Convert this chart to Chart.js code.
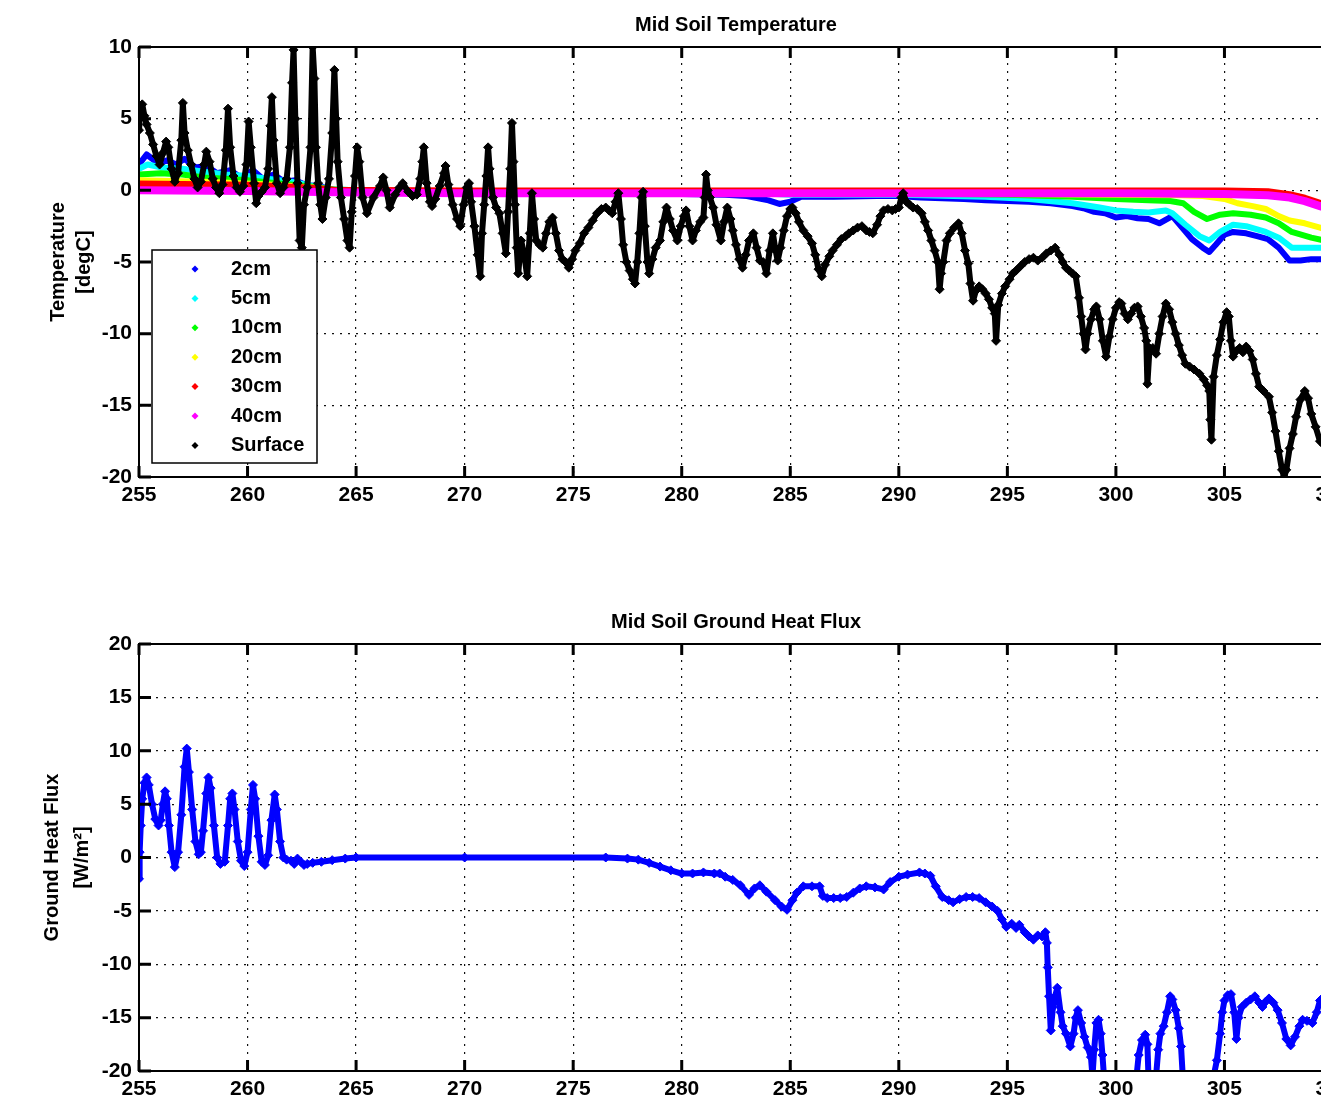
<!DOCTYPE html>
<html>
<head>
<meta charset="utf-8">
<title>Mid Soil</title>
<script src="https://cdn.jsdelivr.net/npm/chart.js@4"></script>
<style>
html, body { margin: 0; padding: 0; overflow: hidden; background: #fff; }
#graficaTemp { position: absolute; left: 0; top: 0; }
#graficaFlujo { position: absolute; left: 0; top: 597px; }
</style>
</head>
<body>
<canvas id="graficaTemp" width="1360" height="527"></canvas>
<canvas id="graficaFlujo" width="1360" height="524"></canvas>
<script>
// marcas de los ejes
var marcasX = [255, 260, 265, 270, 275, 280, 285, 290, 295, 300, 305, 310];
var marcasTemp = [-20, -15, -10, -5, 0, 5, 10];
var marcasFlujo = [-20, -15, -10, -5, 0, 5, 10, 15, 20];

// temperaturas del suelo [dia, degC]
var temp2cm = [[255.0,1.8],[255.35,2.5],[255.7,2.1],[256.0,1.9],[256.3,2.1],[256.7,1.8],[257.1,2.2],[257.6,1.6],[258.1,1.7],[258.6,1.2],[259.2,1.4],[259.7,0.9],[260.25,1.4],[260.7,0.8],[261.2,1.1],[261.7,0.6],[262.2,0.7],[262.7,0.35],[263.3,0.3],[263.9,0.05],[265,-0.1],[270,-0.1],[275,-0.1],[278,-0.2],[280,-0.25],[282,-0.3],[283,-0.4],[284,-0.7],[284.5,-0.95],[285,-0.8],[285.5,-0.45],[287,-0.45],[289,-0.4],[290,-0.4],[291,-0.5],[292,-0.55],[293,-0.6],[294,-0.7],[295,-0.75],[296,-0.8],[297,-0.9],[298,-1.1],[298.5,-1.25],[299,-1.5],[299.5,-1.6],[300,-1.9],[300.5,-1.8],[301,-1.95],[301.5,-2.0],[302,-2.3],[302.6,-1.8],[303.0,-2.5],[303.5,-3.4],[304,-4.0],[304.3,-4.3],[304.6,-3.8],[305,-3.1],[305.4,-2.9],[306,-3.0],[306.5,-3.2],[307,-3.4],[307.5,-4.0],[308.0,-4.9],[308.5,-4.9],[309,-4.8],[309.6,-4.8]];
var temp5cm = [[255.0,1.5],[255.4,1.8],[256,1.6],[257,1.5],[258,1.3],[259,1.1],[260,1.0],[261,0.8],[262,0.6],[263,0.3],[264,0.05],[266,-0.05],[275,-0.05],[283,-0.15],[285,-0.3],[290,-0.3],[294,-0.45],[296,-0.6],[298,-0.9],[299.25,-1.2],[300,-1.4],[300.8,-1.5],[301.5,-1.55],[302.3,-1.4],[302.6,-1.6],[303.2,-2.4],[303.85,-3.2],[304.3,-3.5],[304.8,-2.9],[305.4,-2.4],[306,-2.5],[306.9,-2.9],[307.5,-3.3],[308.1,-4.0],[309,-4.0],[309.6,-4.0]];
var temp10cm = [[255.0,1.1],[256,1.2],[257,1.1],[258,0.9],[259,0.8],[260,0.7],[261,0.55],[262,0.4],[263,0.25],[264,0.05],[266,-0.05],[280,-0.1],[290,-0.2],[295,-0.3],[298,-0.45],[300,-0.6],[301.5,-0.7],[302.5,-0.75],[303.1,-0.9],[303.6,-1.5],[304.2,-2.0],[304.8,-1.7],[305.4,-1.6],[306.2,-1.7],[306.9,-1.9],[307.5,-2.3],[308.1,-2.9],[309,-3.3],[309.6,-3.5]];
var temp20cm = [[255,0.7],[258,0.6],[261,0.4],[263,0.2],[264,0.0],[270,-0.1],[280,-0.15],[290,-0.2],[300,-0.3],[303,-0.35],[304,-0.4],[305,-0.6],[305.6,-0.9],[306.3,-1.1],[306.9,-1.3],[307.5,-1.8],[308,-2.1],[308.7,-2.3],[309.4,-2.6],[309.6,-2.7]];
var temp30cm = [[255,0.45],[260,0.35],[263,0.15],[264,0.0],[270,-0.05],[280,-0.05],[290,-0.05],[300,-0.05],[305,-0.05],[307,-0.1],[308,-0.3],[308.7,-0.55],[309.4,-0.9],[309.6,-1.0]];
var temp40cm = [[255,0.0],[260,-0.05],[265,-0.15],[270,-0.2],[280,-0.2],[290,-0.2],[300,-0.2],[305,-0.25],[307,-0.35],[308,-0.5],[308.7,-0.75],[309.4,-1.1],[309.6,-1.2]];
var tempSuperficie = [[255.0,4.2],[255.05,5.5],[255.15,6.0],[255.25,5.2],[255.35,4.6],[255.5,4.0],[255.65,3.2],[255.8,2.4],[255.95,1.8],[256.1,2.6],[256.25,3.4],[256.35,3.0],[256.5,1.5],[256.65,0.6],[256.8,1.2],[256.95,3.5],[257.02,6.1],[257.1,4.0],[257.25,2.8],[257.4,1.8],[257.55,0.8],[257.7,0.2],[257.85,0.6],[258.0,1.8],[258.1,2.7],[258.25,2.0],[258.4,0.8],[258.55,0.2],[258.7,-0.2],[258.85,0.4],[259.0,2.8],[259.1,5.7],[259.2,3.0],[259.35,1.0],[259.5,0.2],[259.65,-0.1],[259.8,0.3],[259.95,1.8],[260.05,4.8],[260.15,3.0],[260.3,0.5],[260.4,-0.9],[260.5,-0.4],[260.65,-0.1],[260.8,0.2],[260.95,1.5],[261.05,4.5],[261.12,6.5],[261.2,3.5],[261.35,0.5],[261.5,-0.2],[261.65,0.2],[261.8,0.8],[261.95,3.0],[262.05,7.5],[262.12,9.8],[262.2,5.0],[262.3,0.5],[262.4,-3.5],[262.5,-4.0],[262.6,-1.0],[262.75,0.2],[262.9,3.0],[263.0,10.0],[263.08,7.8],[263.15,3.0],[263.25,0.5],[263.35,-1.0],[263.45,-2.0],[263.6,-0.5],[263.75,0.8],[263.9,4.0],[264.0,8.4],[264.08,5.0],[264.15,2.0],[264.3,-0.5],[264.45,-2.0],[264.6,-3.5],[264.7,-4.0],[264.8,-1.5],[264.95,1.0],[265.05,3.0],[265.15,2.0],[265.3,-0.5],[265.5,-1.6],[265.8,-0.5],[266.1,0.3],[266.25,0.9],[266.4,0.0],[266.55,-1.2],[266.8,-0.3],[267.0,0.2],[267.15,0.5],[267.4,-0.1],[267.6,-0.4],[267.8,-0.3],[267.95,0.8],[268.05,2.0],[268.12,3.0],[268.25,0.5],[268.4,-0.8],[268.5,-1.1],[268.65,-0.6],[268.85,0.3],[269.05,1.2],[269.12,1.7],[269.25,0.4],[269.45,-1.0],[269.65,-2.0],[269.8,-2.5],[269.95,-1.0],[270.1,0.2],[270.2,0.5],[270.3,-0.8],[270.45,-2.5],[270.6,-4.5],[270.72,-6.0],[270.8,-3.0],[270.9,-1.0],[271.0,1.0],[271.08,3.0],[271.15,1.5],[271.3,-0.5],[271.45,-1.2],[271.6,-1.6],[271.75,-3.0],[271.9,-4.4],[272.0,-1.5],[272.1,1.5],[272.18,4.7],[272.25,2.0],[272.32,-1.0],[272.4,-4.0],[272.47,-5.8],[272.6,-3.5],[272.75,-4.5],[272.88,-6.0],[273.0,-3.0],[273.1,-0.2],[273.2,-2.0],[273.3,-3.5],[273.45,-3.8],[273.6,-4.0],[273.75,-3.0],[273.9,-2.2],[274.05,-1.9],[274.2,-3.0],[274.35,-4.2],[274.5,-4.8],[274.65,-5.0],[274.8,-5.4],[274.95,-4.8],[275.1,-4.2],[275.3,-3.7],[275.5,-3.0],[275.7,-2.6],[275.9,-2.1],[276.1,-1.6],[276.3,-1.3],[276.5,-1.2],[276.65,-1.4],[276.8,-1.6],[276.95,-0.8],[277.08,-0.2],[277.2,-2.0],[277.3,-3.8],[277.45,-5.0],[277.6,-5.6],[277.75,-6.2],[277.85,-6.5],[277.95,-5.0],[278.05,-3.0],[278.15,-0.5],[278.22,-0.1],[278.3,-2.5],[278.42,-5.0],[278.5,-5.8],[278.65,-4.8],[278.8,-4.0],[279.0,-3.5],[279.15,-2.2],[279.3,-1.2],[279.45,-2.0],[279.6,-2.8],[279.8,-3.5],[279.95,-2.5],[280.1,-1.8],[280.2,-1.4],[280.35,-2.5],[280.5,-3.5],[280.65,-2.8],[280.85,-2.2],[281.0,-1.9],[281.06,-0.5],[281.12,1.1],[281.2,0.0],[281.3,-0.5],[281.45,-1.2],[281.6,-2.4],[281.8,-3.5],[281.95,-2.2],[282.1,-1.2],[282.25,-2.0],[282.35,-2.8],[282.5,-3.8],[282.65,-4.8],[282.8,-5.4],[282.95,-4.5],[283.1,-3.5],[283.3,-3.0],[283.45,-4.0],[283.6,-4.9],[283.75,-5.0],[283.9,-5.8],[284.05,-4.2],[284.2,-3.0],[284.3,-4.0],[284.42,-4.9],[284.55,-4.0],[284.7,-2.8],[284.85,-1.8],[285.0,-1.3],[285.1,-1.2],[285.25,-1.6],[285.4,-2.2],[285.6,-2.8],[285.8,-3.2],[286.0,-3.7],[286.15,-4.5],[286.3,-5.5],[286.45,-6.0],[286.6,-5.2],[286.8,-4.6],[286.95,-4.2],[287.15,-3.8],[287.35,-3.4],[287.55,-3.2],[287.7,-3.0],[287.9,-2.8],[288.1,-2.6],[288.3,-2.5],[288.5,-2.8],[288.65,-2.9],[288.8,-3.0],[289.0,-2.4],[289.15,-1.8],[289.3,-1.4],[289.5,-1.3],[289.7,-1.4],[289.85,-1.3],[290.0,-1.2],[290.12,-0.5],[290.2,-0.2],[290.35,-0.8],[290.5,-1.0],[290.65,-1.2],[290.85,-1.3],[291.05,-1.6],[291.2,-2.2],[291.35,-2.8],[291.5,-3.5],[291.65,-4.2],[291.8,-5.0],[291.88,-6.9],[291.95,-5.8],[292.05,-5.0],[292.2,-3.5],[292.35,-3.0],[292.55,-2.6],[292.75,-2.3],[292.9,-3.0],[293.05,-4.2],[293.2,-5.1],[293.3,-6.5],[293.42,-7.7],[293.55,-7.0],[293.7,-6.7],[293.85,-6.9],[294.0,-7.2],[294.15,-7.6],[294.3,-8.2],[294.42,-8.6],[294.48,-10.5],[294.58,-8.0],[294.75,-7.2],[294.9,-6.7],[295.1,-6.2],[295.25,-5.8],[295.4,-5.6],[295.6,-5.3],[295.8,-5.0],[296.0,-4.8],[296.2,-4.7],[296.4,-4.9],[296.6,-4.7],[296.8,-4.4],[297.0,-4.2],[297.2,-4.0],[297.4,-4.5],[297.55,-5.0],[297.7,-5.4],[297.85,-5.6],[298.0,-5.8],[298.15,-6.0],[298.3,-7.5],[298.4,-8.8],[298.5,-10.0],[298.6,-11.1],[298.7,-10.0],[298.85,-9.0],[299.0,-8.3],[299.1,-8.1],[299.25,-9.0],[299.4,-10.5],[299.55,-11.6],[299.7,-10.2],[299.85,-9.0],[300.0,-8.2],[300.15,-7.8],[300.25,-7.9],[300.4,-8.6],[300.55,-9.0],[300.7,-8.6],[300.85,-8.2],[301.0,-8.1],[301.15,-8.8],[301.3,-9.6],[301.4,-10.5],[301.45,-13.5],[301.55,-11.0],[301.7,-11.0],[301.85,-11.4],[302.0,-10.0],[302.15,-8.8],[302.3,-7.9],[302.45,-8.3],[302.6,-9.2],[302.75,-10.0],[302.9,-10.8],[303.05,-11.5],[303.2,-12.1],[303.4,-12.3],[303.6,-12.5],[303.85,-12.8],[304.05,-13.2],[304.2,-13.6],[304.3,-14.0],[304.35,-16.0],[304.4,-17.4],[304.5,-13.0],[304.65,-11.5],[304.8,-10.4],[304.95,-9.2],[305.1,-8.5],[305.2,-8.8],[305.3,-10.5],[305.4,-11.6],[305.55,-11.2],[305.7,-11.0],[305.85,-11.3],[306.0,-10.9],[306.15,-11.2],[306.3,-11.8],[306.45,-12.8],[306.6,-13.7],[306.8,-14.0],[307.05,-14.4],[307.2,-15.5],[307.35,-16.8],[307.5,-18.2],[307.65,-19.5],[307.75,-20.0],[307.85,-19.5],[308.0,-18.0],[308.15,-17.0],[308.3,-15.8],[308.5,-14.6],[308.7,-14.0],[308.85,-14.5],[309.0,-15.6],[309.2,-16.5],[309.4,-17.5],[309.6,-17.8]];

// flujo de calor del suelo [dia, W/m2]; null = fuera de escala
var flujoSuelo = [[255.0,-2.0],[255.03,0.5],[255.08,3.0],[255.15,5.5],[255.25,7.0],[255.35,7.5],[255.45,6.8],[255.6,5.0],[255.75,3.6],[255.9,3.0],[256.0,3.5],[256.1,5.0],[256.2,6.2],[256.28,5.5],[256.38,3.0],[256.5,0.5],[256.65,-0.9],[256.8,0.5],[256.95,4.0],[257.1,8.5],[257.2,10.2],[257.3,8.0],[257.45,4.5],[257.6,1.5],[257.75,0.3],[257.85,0.5],[257.95,2.5],[258.1,6.0],[258.2,7.5],[258.3,6.5],[258.45,3.0],[258.6,0.0],[258.75,-0.6],[258.95,-0.4],[259.1,3.0],[259.2,5.5],[259.3,6.0],[259.4,4.5],[259.55,1.5],[259.7,-0.3],[259.85,-0.8],[260.0,0.5],[260.15,4.5],[260.25,6.8],[260.35,5.5],[260.5,2.0],[260.65,-0.4],[260.8,-0.7],[260.95,0.2],[261.1,3.5],[261.25,5.9],[261.35,4.5],[261.5,1.5],[261.65,0.0],[261.8,-0.2],[262.0,-0.3],[262.15,-0.6],[262.3,-0.1],[262.45,-0.4],[262.6,-0.7],[262.75,-0.6],[263.0,-0.5],[263.4,-0.4],[263.9,-0.25],[264.5,-0.1],[265.0,0.0],[270,0.0],[276.5,0.0],[277.5,-0.1],[278.0,-0.2],[278.5,-0.5],[279.0,-0.85],[279.5,-1.2],[280.0,-1.5],[280.5,-1.5],[281.0,-1.4],[281.5,-1.5],[281.75,-1.5],[282.0,-1.8],[282.35,-2.1],[282.7,-2.6],[283.1,-3.5],[283.35,-2.9],[283.6,-2.6],[283.9,-3.2],[284.3,-4.0],[284.6,-4.6],[284.85,-4.9],[285.1,-4.0],[285.3,-3.3],[285.6,-2.7],[286.0,-2.7],[286.35,-2.7],[286.5,-3.6],[286.7,-3.8],[287.0,-3.8],[287.3,-3.8],[287.6,-3.7],[287.9,-3.3],[288.2,-2.9],[288.5,-2.7],[288.9,-2.8],[289.3,-3.0],[289.6,-2.3],[290.0,-1.8],[290.4,-1.6],[290.95,-1.4],[291.2,-1.5],[291.45,-1.7],[291.7,-2.7],[292.0,-3.7],[292.3,-4.0],[292.5,-4.2],[292.8,-3.9],[293.1,-3.7],[293.4,-3.7],[293.7,-3.8],[294.0,-4.2],[294.3,-4.6],[294.55,-5.0],[294.75,-5.8],[294.95,-6.5],[295.2,-6.2],[295.4,-6.6],[295.55,-6.3],[295.8,-7.0],[296.0,-7.4],[296.2,-7.7],[296.4,-7.3],[296.6,-7.4],[296.75,-7.0],[296.82,-8.0],[296.86,-10.3],[296.92,-13.0],[297.0,-16.2],[297.1,-14.0],[297.2,-13.0],[297.3,-12.2],[297.45,-14.5],[297.55,-15.8],[297.7,-16.5],[297.9,-17.7],[298.05,-16.5],[298.15,-15.0],[298.25,-14.3],[298.4,-15.5],[298.55,-16.8],[298.7,-17.8],[298.85,-18.7],[298.92,-20.5],[299.0,-18.0],[299.1,-15.5],[299.2,-15.2],[299.3,-16.5],[299.38,-18.5],[299.45,-20.5],[300.2,null],[300.95,-20.5],[301.05,-18.5],[301.2,-17.1],[301.35,-16.6],[301.45,-17.5],[301.5,-20.5],[301.7,null],[301.85,-20.5],[301.95,-18.0],[302.05,-16.5],[302.2,-15.8],[302.35,-14.5],[302.5,-13.0],[302.6,-13.3],[302.75,-14.3],[302.9,-16.0],[303.0,-17.7],[303.08,-20.5],[303.8,null],[304.5,-20.5],[304.65,-19.0],[304.8,-16.5],[304.9,-14.5],[305.0,-13.4],[305.15,-12.9],[305.3,-12.8],[305.45,-14.5],[305.55,-17.0],[305.65,-15.0],[305.8,-14.0],[306.0,-13.6],[306.2,-13.3],[306.4,-13.0],[306.6,-13.6],[306.75,-14.0],[306.9,-13.5],[307.05,-13.2],[307.25,-13.6],[307.45,-14.3],[307.65,-15.5],[307.85,-17.0],[308.05,-17.6],[308.25,-16.8],[308.45,-15.8],[308.6,-15.2],[308.8,-15.3],[309.05,-15.5],[309.25,-14.5],[309.4,-13.4],[309.6,-13.0]];

var fuenteBase = "'Liberation Sans', Arial, sans-serif";

function aPuntos(pares) {
    return pares.map(function(p) { return {x: p[0], y: p[1]}; });
}

// serie de banda gruesa (sensores enterrados)
function serieBanda(etiqueta, pares, color, orden, grosor) {
    return {
        label: etiqueta, data: aPuntos(pares), showLine: true,
        borderColor: color, backgroundColor: color, borderWidth: grosor,
        pointRadius: 0, order: orden, clip: 0,
        borderJoinStyle: 'round', borderCapStyle: 'round'
    };
}

// serie de puntos densos tipo marcador matlab
function seriePuntos(etiqueta, pares, color, orden) {
    return {
        label: etiqueta, data: aPuntos(pares), showLine: true, spanGaps: false,
        borderColor: color, backgroundColor: color, borderWidth: 6,
        pointStyle: 'rectRot', pointRadius: 4.5, pointBorderWidth: 1,
        pointBackgroundColor: color, pointBorderColor: color,
        order: orden, clip: 0, borderJoinStyle: 'round', borderCapStyle: 'round'
    };
}

// marco completo y marcas hacia adentro, como en matlab
var marcoMatlab = {
    id: 'marcoMatlab',
    afterDatasetsDraw: function(chart) {
        var ctx = chart.ctx;
        var a = chart.chartArea;
        var sx = chart.scales.x;
        var sy = chart.scales.y;
        ctx.save();
        ctx.strokeStyle = '#000';
        ctx.lineWidth = 2;
        ctx.strokeRect(a.left, a.top, a.right - a.left, a.bottom - a.top);
        ctx.lineWidth = 3;
        ctx.beginPath();
        sx.ticks.forEach(function(t) {
            var px = sx.getPixelForValue(t.value);
            ctx.moveTo(px, a.bottom); ctx.lineTo(px, a.bottom - 11);
            ctx.moveTo(px, a.top); ctx.lineTo(px, a.top + 11);
        });
        sy.ticks.forEach(function(t) {
            var py = sy.getPixelForValue(t.value);
            ctx.moveTo(a.left, py); ctx.lineTo(a.left + 12, py);
            ctx.moveTo(a.right, py); ctx.lineTo(a.right - 12, py);
        });
        ctx.stroke();
        ctx.restore();
    }
};

// leyenda con caja dentro del area de la grafica
var leyendaCaja = {
    id: 'leyendaCaja',
    afterDraw: function(chart, args, opts) {
        if (!opts.mostrar) return;
        var ctx = chart.ctx;
        ctx.save();
        ctx.fillStyle = '#fff';
        ctx.fillRect(152, 250, 165, 213);
        ctx.strokeStyle = '#000';
        ctx.lineWidth = 1.5;
        ctx.strokeRect(152, 250, 165, 213);
        ctx.font = 'bold 20px ' + fuenteBase;
        ctx.textBaseline = 'middle';
        chart.data.datasets.forEach(function(ds, i) {
            var y = 269 + i * 29.4;
            ctx.fillStyle = ds.borderColor;
            ctx.beginPath();
            ctx.moveTo(195, y - 3.5); ctx.lineTo(198.5, y); ctx.lineTo(195, y + 3.5); ctx.lineTo(191.5, y);
            ctx.closePath();
            ctx.fill();
            ctx.fillStyle = '#000';
            ctx.fillText(ds.label, 231, y);
        });
        ctx.restore();
    }
};

function opcionesGrafica(titulo, tituloY, marcasY, espacioY, altoLineaY, leyenda) {
    return {
        responsive: false,
        animation: false,
        layout: { padding: { left: 0, right: 27, top: 0, bottom: 0 } },
        plugins: {
            legend: { display: false },
            tooltip: { enabled: false },
            title: {
                display: true, text: titulo, fullSize: false, color: '#000',
                font: { family: fuenteBase, size: 20, weight: 'bold', lineHeight: 1.2 },
                padding: { top: 13, bottom: 10 }
            },
            leyendaCaja: { mostrar: leyenda }
        },
        scales: {
            x: {
                type: 'linear',
                min: marcasX[0], max: marcasX[marcasX.length - 1],
                afterBuildTicks: function(s) { s.ticks = marcasX.map(function(v) { return {value: v}; }); },
                afterFit: function(s) { s.height = 50; },
                ticks: { color: '#000', padding: 6, maxRotation: 0, autoSkip: false,
                    font: { family: fuenteBase, size: 21, weight: 'bold' } },
                grid: { color: '#111', lineWidth: 1.2, drawTicks: false },
                border: { display: true, color: '#000', width: 2, dash: [2, 6] }
            },
            y: {
                type: 'linear',
                min: marcasY[0], max: marcasY[marcasY.length - 1],
                afterBuildTicks: function(s) { s.ticks = marcasY.map(function(v) { return {value: v}; }); },
                afterFit: function(s) { s.width = 139; },
                ticks: { color: '#000', padding: 7, autoSkip: false,
                    font: { family: fuenteBase, size: 21, weight: 'bold' } },
                grid: { color: '#111', lineWidth: 1.2, drawTicks: false },
                border: { display: true, color: '#000', width: 2, dash: [2, 6] },
                title: {
                    display: true, text: tituloY, color: '#000',
                    font: { family: fuenteBase, size: 20, weight: 'bold', lineHeight: altoLineaY },
                    padding: { top: espacioY, bottom: 0 }
                }
            }
        }
    };
}

new Chart(document.getElementById('graficaTemp'), {
    type: 'scatter',
    data: {
        datasets: [
            serieBanda('2cm', temp2cm, '#0000ff', 6, 6),
            serieBanda('5cm', temp5cm, '#00ffff', 5, 6),
            serieBanda('10cm', temp10cm, '#00ff00', 4, 6),
            serieBanda('20cm', temp20cm, '#ffff00', 3, 6),
            serieBanda('30cm', temp30cm, '#ff0000', 2, 7),
            serieBanda('40cm', temp40cm, '#ff00ff', 1, 8),
            seriePuntos('Surface', tempSuperficie, '#000000', 0)
        ]
    },
    options: opcionesGrafica('Mid Soil Temperature', ['Temperature', '[degC]'], marcasTemp, 45, 1.3, true),
    plugins: [marcoMatlab, leyendaCaja]
});

new Chart(document.getElementById('graficaFlujo'), {
    type: 'scatter',
    data: {
        datasets: [
            seriePuntos('Ground Heat Flux', flujoSuelo, '#0000ff', 0)
        ]
    },
    options: opcionesGrafica('Mid Soil Ground Heat Flux', ['Ground Heat Flux', '[W/m\u00b2]'], marcasFlujo, 37, 1.5, false),
    plugins: [marcoMatlab, leyendaCaja]
});
</script>
</body>
</html>
